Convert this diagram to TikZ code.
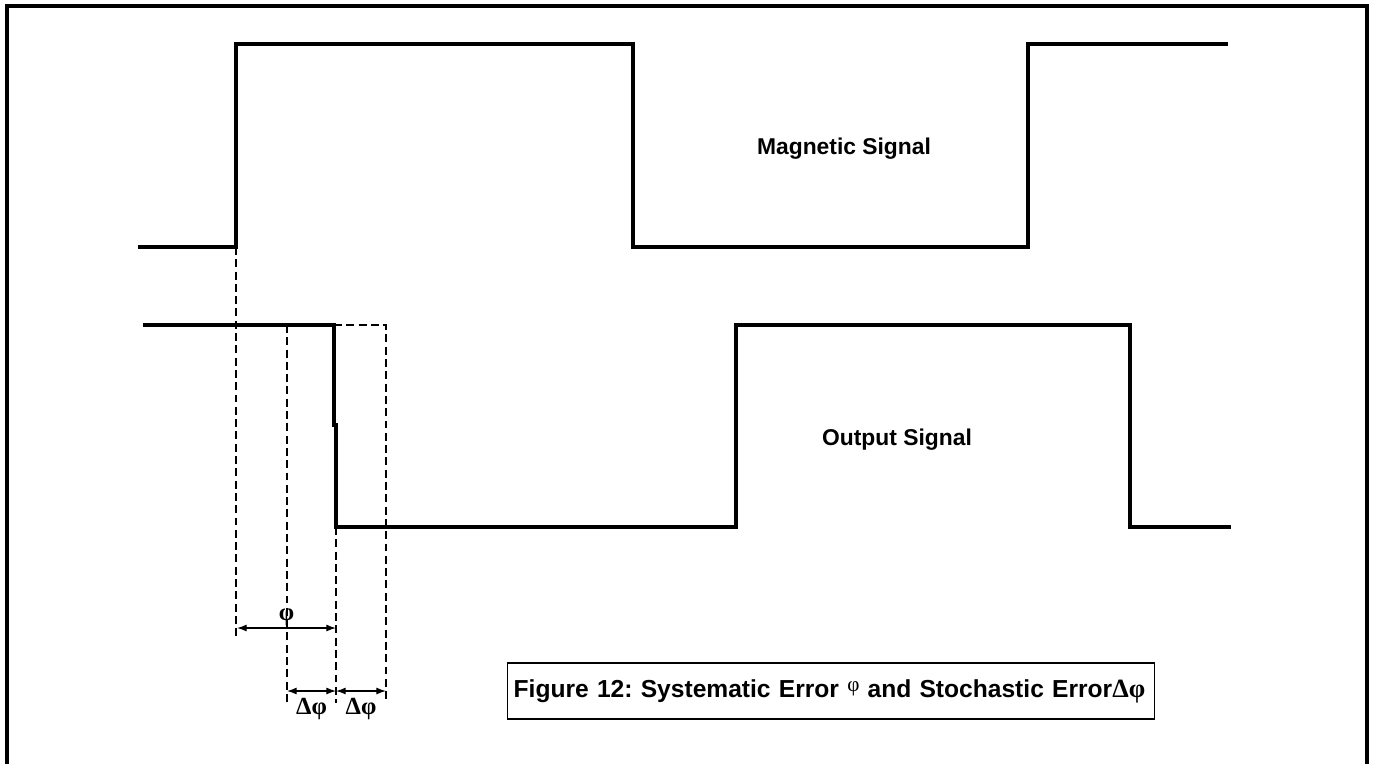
\documentclass[tikz,border=0pt]{standalone}
\usepackage{fontspec}
\setmainfont{Liberation Sans}
\newfontfamily\greekserif{Liberation Serif}
\usetikzlibrary{arrows.meta}
\frenchspacing

\begin{document}
\begin{tikzpicture}[x=0.02cm, y=-0.02cm,
		signal/.style={line width=2pt, line join=miter},
		guide/.style={line width=0.8pt, dash pattern=on 4.5pt off 2.5pt},
		dim/.style={line width=0.7pt, {Latex[length=5.5pt,width=4pt]}-{Latex[length=5.5pt,width=4pt]}},
		lbl/.style={font=\fontsize{13}{15}\selectfont\bfseries, anchor=base},
		sym/.style={font=\greekserif\fontsize{14}{16}\selectfont\bfseries}]
	\useasboundingbox (0,0) rectangle (1373,764);
	\draw [line width=1.8pt] (7,764) -- (7,6) -- (1367,6) -- (1367,764);

	\draw [signal] (138,247) -- (236,247) coordinate (magRise) -- (236,44) -- (633,44) -- (633,247) -- (1028,247) -- (1028,44) -- (1228,44);
	\draw [signal] (143,325) -- (334,325) coordinate (outTop) -- (334,425) -- (336,425) -- (336,527) coordinate (outFall) -- (736,527) -- (736,325) -- (1130,325) -- (1130,527) -- (1231,527);

	\node (magnetic) [lbl] at (844,154) {Magnetic Signal};
	\node (output) [lbl] at (897,445) {Output Signal};

	\coordinate (phiL) at (237,628);
	\coordinate (phiR) at (336,628);
	\coordinate (dphiL) at (287,691);
	\coordinate (dphiM) at (336,691);
	\coordinate (dphiR) at (386,691);

	\draw [guide] (magRise) -- (236,640);
	\draw [guide] (287,325) -- (287,703);
	\draw [guide] (outFall) -- (336,703);
	\draw [guide] (outTop) -- (386,325) -- (386,703);

	\draw [dim] (phiL) to node[above, sym, inner sep=1pt] {φ} (phiR);
	\draw [dim] (dphiL) to node[below, sym, inner sep=4pt] {Δφ} (dphiM);
	\draw [dim] (dphiM) to node[below, sym, inner sep=4pt] {Δφ} (dphiR);

	\node (caption) [draw, line width=0.8pt, anchor=west, minimum height=1.12cm, text width=12.7cm, inner xsep=0.12cm, align=left, font=\fontsize{14}{16}\selectfont\bfseries] at (507,691) {Figure 12: Systematic Error \raisebox{3pt}{\greekserif\mdseries\fontsize{12}{12}\selectfont φ} and Stochastic Error{\greekserif\fontsize{15}{16}\selectfont Δφ}};
\end{tikzpicture}
\end{document}
